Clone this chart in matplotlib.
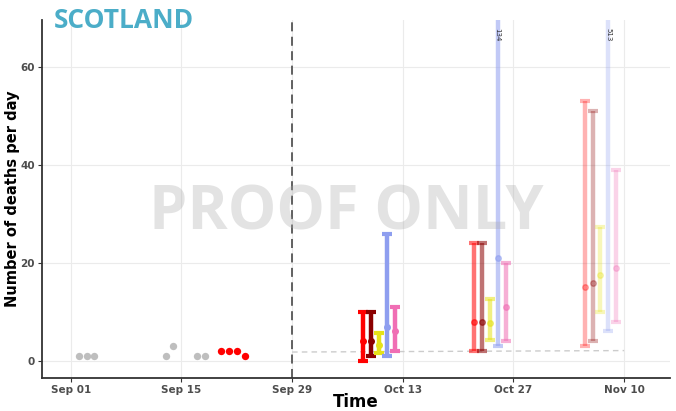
import matplotlib
matplotlib.use("Agg")
import matplotlib.pyplot as plt
import matplotlib.dates as mdates
from datetime import date

# ---------------- data ----------------
obs_dates_grey = [date(2020, 9, 2), date(2020, 9, 3), date(2020, 9, 4),
                  date(2020, 9, 13), date(2020, 9, 14), date(2020, 9, 17), date(2020, 9, 18)]
obs_vals_grey = [1, 1, 1, 1, 3, 1, 1]
obs_dates_red = [date(2020, 9, 20), date(2020, 9, 21), date(2020, 9, 22), date(2020, 9, 23)]
obs_vals_red = [2, 2, 2, 1]

baseline_dates = [date(2020, 9, 29), date(2020, 11, 10)]
baseline_vals = [1.8, 2.1]

model_colors = ["#FF0000", "#8B0000", "#E6E21A", "#8E9EEF", "#F06EB4"]

g1_dates = [date(2020, 10, 8), date(2020, 10, 9), date(2020, 10, 10), date(2020, 10, 11), date(2020, 10, 12)]
g1_mid = [4, 4, 3.3, 7, 6]
g1_low = [0, 1, 1.7, 1, 2.1]
g1_high = [10, 10, 5.6, 26, 11]

g2_dates = [date(2020, 10, 22), date(2020, 10, 23), date(2020, 10, 24), date(2020, 10, 25), date(2020, 10, 26)]
g2_mid = [8, 8, 7.7, 21, 11]
g2_low = [2, 2, 4.3, 3, 4]
g2_high = [24, 24, 12.6, 134, 20]

g3_dates = [date(2020, 11, 5), date(2020, 11, 6), date(2020, 11, 7), date(2020, 11, 8), date(2020, 11, 9)]
g3_mid = [15, 16, 17.5, 80, 19]
g3_low = [3, 4, 10, 6, 8]
g3_high = [53, 51, 27.4, 513, 39]

group_alphas = [1.0, 0.55, 0.3]

xticks = [date(2020, 9, 1), date(2020, 9, 15), date(2020, 9, 29),
          date(2020, 10, 13), date(2020, 10, 27), date(2020, 11, 10)]
xtick_labels = ["Sep 01", "Sep 15", "Sep 29", "Oct 13", "Oct 27", "Nov 10"]
yticks = [0, 20, 40, 60]

# ---------------- figure ----------------
fig = plt.figure(figsize=(6.76, 4.11), dpi=100)
ax = fig.add_axes([42 / 676, 33 / 411, (670 - 42) / 676, (378 - 20) / 411])

ax.set_ylim(-3.5, 69.6)
ax.set_xlim(mdates.date2num(date(2020, 8, 28)) + 0.37, mdates.date2num(date(2020, 11, 15)) + 0.8)

for spine in ["top", "right"]:
    ax.spines[spine].set_visible(False)
for spine in ["left", "bottom"]:
    ax.spines[spine].set_color("#333333")
    ax.spines[spine].set_linewidth(1.3)

ax.set_xticks([mdates.date2num(d) for d in xticks])
ax.set_xticklabels(xtick_labels)
ax.set_yticks(yticks)
ax.tick_params(axis="both", length=3, color="#333333", labelsize=7.5, labelcolor="#4D4D4D", pad=2)
for lbl in ax.get_xticklabels() + ax.get_yticklabels():
    lbl.set_fontweight("bold")
ax.grid(True, color="#EBEBEB", linewidth=0.8)
ax.set_axisbelow(True)

ax.set_xlabel("Time", fontsize=12, fontweight="bold")
ax.xaxis.set_label_coords(0.5, -(402 - 378) / 358)
ax.xaxis.label.set_va("center")
ax.set_ylabel("Number of deaths per day", fontsize=10.5, fontweight="bold")
ax.yaxis.set_label_coords(-(42 - 13) / 628, 0.5)
ax.yaxis.label.set_va("center")

# observed points
ax.scatter([mdates.date2num(d) for d in obs_dates_grey], obs_vals_grey, s=28, color="#BEBEBE", zorder=3, linewidths=0)
ax.scatter([mdates.date2num(d) for d in obs_dates_red], obs_vals_red, s=28, color="#FF0000", zorder=3, linewidths=0)

# forecast date line
ax.axvline(mdates.date2num(date(2020, 9, 29)), color="#555555", linestyle=(0, (5, 3)), linewidth=1.3, zorder=2)

# baseline dashed
ax.plot([mdates.date2num(d) for d in baseline_dates], baseline_vals, color="#CCCCCC",
        linestyle=(0, (4, 3)), linewidth=1.0, zorder=2)

# error bars
groups = [(g1_dates, g1_mid, g1_low, g1_high),
          (g2_dates, g2_mid, g2_low, g2_high),
          (g3_dates, g3_mid, g3_low, g3_high)]
for (dts, mid, low, high), a in zip(groups, group_alphas):
    for d, m, lo, hi, c in zip(dts, mid, low, high, model_colors):
        x = mdates.date2num(d)
        ax.errorbar([x], [m], yerr=[[m - lo], [hi - m]], fmt="o", color=c, ecolor=c,
                    elinewidth=3.2, capsize=3.5, capthick=3, markersize=4, alpha=a, zorder=4)

# overflow labels
for d, hi in [(g2_dates[3], g2_high[3]), (g3_dates[3], g3_high[3])]:
    ax.text(mdates.date2num(d), 66.5, str(hi), rotation=-90, fontsize=5, ha="center", va="center",
            color="#333333", zorder=6)

# watermark
fig.text(346 / 676, 1 - 214 / 411, "PROOF ONLY", fontsize=44, fontweight="bold",
         family=["Open Sans", "DejaVu Sans"], color="#AAAAAA", alpha=0.33,
         ha="center", va="center", zorder=10)

# title
fig.text(54 / 676, 1 - 20 / 411, "SCOTLAND", fontsize=19, fontweight="bold",
         family=["Open Sans", "DejaVu Sans"], color="#4BADC8", ha="left", va="center")

fig.savefig("out.png", dpi=100)
